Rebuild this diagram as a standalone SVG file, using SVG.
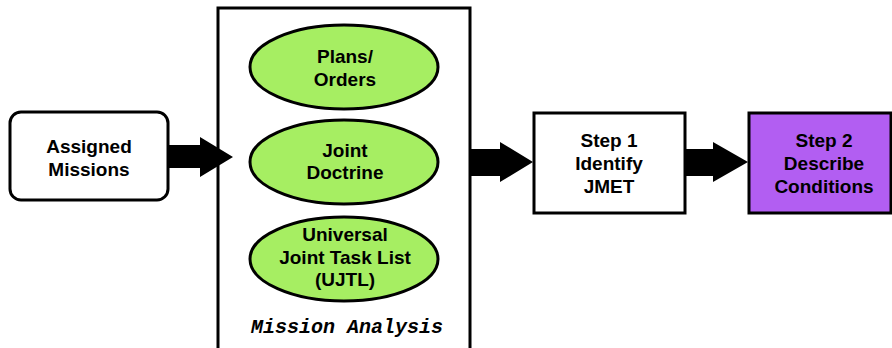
<svg xmlns="http://www.w3.org/2000/svg" width="892" height="348" viewBox="0 0 892 348">
<style>
.box{fill:#fff;stroke:#000;stroke-width:3}
.ell{fill:#a6ee62;stroke:#000;stroke-width:3}
.purple{fill:#b25ef2;stroke:#000;stroke-width:3}
.t{font-family:"Liberation Sans",Arial,sans-serif;font-weight:bold;font-size:19px;text-anchor:middle;fill:#000}
.ma{font-family:"Liberation Mono","Courier New",monospace;font-weight:bold;font-style:italic;font-size:20px;text-anchor:middle;fill:#000}
.arr{fill:#000}
</style>
<g id="assigned-missions">
<rect class="box" x="10" y="112" width="158" height="88" rx="11"/>
<text class="t" x="89" y="153">Assigned</text>
<text class="t" x="89" y="176">Missions</text>
</g>
<g id="mission-analysis">
<rect class="box" x="218" y="8" width="252" height="360"/>
<text class="ma" x="347" y="333">Mission Analysis</text>
</g>
<g id="plans-orders">
<ellipse class="ell" cx="344" cy="67" rx="94" ry="42"/>
<text class="t" x="345" y="63">Plans/</text>
<text class="t" x="345" y="86">Orders</text>
</g>
<g id="joint-doctrine">
<ellipse class="ell" cx="344" cy="162" rx="94" ry="42"/>
<text class="t" x="345" y="157">Joint</text>
<text class="t" x="345" y="179">Doctrine</text>
</g>
<g id="ujtl">
<ellipse class="ell" cx="344" cy="259" rx="94" ry="42"/>
<text class="t" x="345" y="241">Universal</text>
<text class="t" x="345" y="264">Joint Task List</text>
<text class="t" x="345" y="286">(UJTL)</text>
</g>
<g id="step1">
<rect class="box" x="534" y="113" width="151" height="100"/>
<text class="t" x="609" y="147">Step 1</text>
<text class="t" x="609" y="170">Identify</text>
<text class="t" x="609" y="193">JMET</text>
</g>
<g id="step2">
<rect class="purple" x="749" y="113" width="142" height="100"/>
<text class="t" x="824" y="147">Step 2</text>
<text class="t" x="824" y="170">Describe</text>
<text class="t" x="824" y="193">Conditions</text>
</g>
<g id="connectors">
<polygon class="arr" points="168,145 200,145 200,137 233,157 200,177 200,168 168,168"/>
<polygon class="arr" points="470,149 500,149 500,142 533,162 500,182 500,176 470,176"/>
<polygon class="arr" points="685,149 713,149 713,142 748,162 713,182 713,176 685,176"/>
</g>
</svg>
